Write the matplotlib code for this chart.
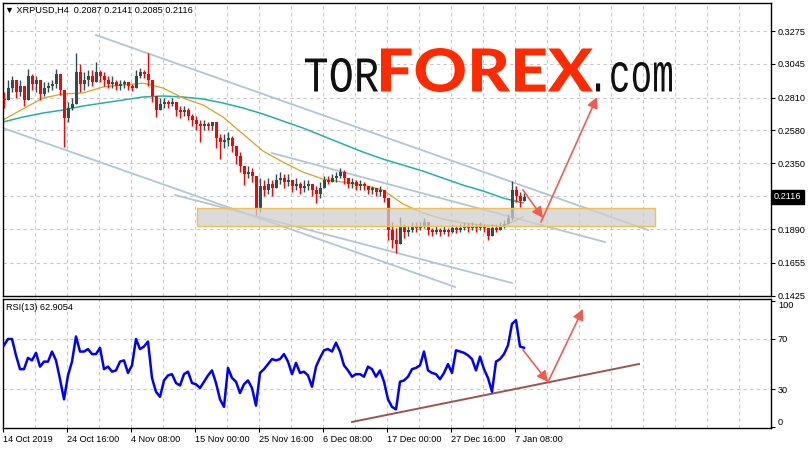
import numpy as np
import matplotlib
matplotlib.use("Agg")
import matplotlib.pyplot as plt
import matplotlib.transforms as mtransforms
from matplotlib.textpath import TextPath
from matplotlib.patches import PathPatch, Rectangle
from matplotlib.font_manager import FontProperties

# ---- data (4-bar samples of the H4 chart) ----
close = [0.2793, 0.2877, 0.2932, 0.2849, 0.2891, 0.2793, 0.2960, 0.2904, 0.2932, 0.2835,
         0.2877, 0.2891, 0.2904, 0.2974, 0.2863, 0.2667, 0.2737, 0.2765, 0.2988, 0.2904,
         0.2932, 0.2960, 0.2918, 0.2988, 0.2960, 0.2932, 0.2904, 0.2918, 0.2891, 0.2904,
         0.2918, 0.2891, 0.2877, 0.2960, 0.2988, 0.2974, 0.2932, 0.2821, 0.2723, 0.2765,
         0.2779, 0.2765, 0.2779, 0.2723, 0.2709, 0.2723, 0.2681, 0.2653, 0.2625, 0.2611,
         0.2625, 0.2611, 0.2639, 0.2527, 0.2499, 0.2513, 0.2527, 0.2471, 0.2401, 0.2331,
         0.2275, 0.2289, 0.2261, 0.2038, 0.2192, 0.2164, 0.2205, 0.2178, 0.2233, 0.2247,
         0.2219, 0.2233, 0.2192, 0.2205, 0.2178, 0.2192, 0.2205, 0.2164, 0.2136, 0.2178,
         0.2233, 0.2219, 0.2247, 0.2261, 0.2289, 0.2247, 0.2205, 0.2219, 0.2192, 0.2205,
         0.2192, 0.2164, 0.2178, 0.2150, 0.2164, 0.2108, 0.1884, 0.1814, 0.1786, 0.1912,
         0.1870, 0.1884, 0.1912, 0.1898, 0.1912, 0.1940, 0.1884, 0.1870, 0.1884, 0.1870,
         0.1884, 0.1870, 0.1898, 0.1884, 0.1898, 0.1912, 0.1898, 0.1912, 0.1898, 0.1912,
         0.1898, 0.1842, 0.1898, 0.1884, 0.1912, 0.1926, 0.1968, 0.2164, 0.2122, 0.2087,
         0.2116]
high = [0.2849, 0.2932, 0.2960, 0.2904, 0.2932, 0.2877, 0.3009, 0.2974, 0.2960, 0.2904,
        0.2918, 0.2918, 0.2932, 0.3009, 0.2946, 0.2849, 0.2779, 0.2807, 0.3121, 0.3044,
        0.2988, 0.3002, 0.3002, 0.3058, 0.3002, 0.2988, 0.2960, 0.2960, 0.2932, 0.2932,
        0.2932, 0.2918, 0.2904, 0.3002, 0.3016, 0.3002, 0.3121, 0.2904, 0.2821, 0.2807,
        0.2807, 0.2793, 0.2807, 0.2765, 0.2751, 0.2751, 0.2737, 0.2695, 0.2681, 0.2653,
        0.2653, 0.2639, 0.2639, 0.2611, 0.2555, 0.2555, 0.2569, 0.2541, 0.2471, 0.2429,
        0.2331, 0.2331, 0.2317, 0.2261, 0.2247, 0.2233, 0.2247, 0.2233, 0.2275, 0.2289,
        0.2275, 0.2275, 0.2233, 0.2247, 0.2219, 0.2233, 0.2233, 0.2205, 0.2192, 0.2219,
        0.2261, 0.2261, 0.2275, 0.2289, 0.2317, 0.2303, 0.2247, 0.2247, 0.2233, 0.2233,
        0.2219, 0.2192, 0.2192, 0.2178, 0.2192, 0.2164, 0.2108, 0.1940, 0.1898, 0.1975,
        0.1926, 0.1912, 0.1940, 0.1940, 0.1940, 0.1968, 0.1926, 0.1898, 0.1912, 0.1898,
        0.1912, 0.1898, 0.1926, 0.1912, 0.1926, 0.1940, 0.1933, 0.1940, 0.1926, 0.1940,
        0.1926, 0.1898, 0.1926, 0.1926, 0.1940, 0.1954, 0.1996, 0.2226, 0.2192, 0.2150,
        0.2141]
low = [0.2737, 0.2793, 0.2849, 0.2807, 0.2821, 0.2751, 0.2821, 0.2863, 0.2849, 0.2793,
       0.2821, 0.2849, 0.2863, 0.2877, 0.2828, 0.2464, 0.2639, 0.2723, 0.2793, 0.2849,
       0.2863, 0.2891, 0.2891, 0.2932, 0.2918, 0.2891, 0.2877, 0.2877, 0.2863, 0.2863,
       0.2877, 0.2863, 0.2856, 0.2891, 0.2946, 0.2946, 0.2891, 0.2779, 0.2674, 0.2723,
       0.2737, 0.2737, 0.2751, 0.2681, 0.2667, 0.2681, 0.2653, 0.2611, 0.2583, 0.2499,
       0.2583, 0.2583, 0.2583, 0.2457, 0.2380, 0.2457, 0.2471, 0.2429, 0.2345, 0.2289,
       0.2198, 0.2247, 0.2219, 0.1989, 0.2010, 0.2122, 0.2136, 0.2122, 0.2192, 0.2205,
       0.2178, 0.2192, 0.2150, 0.2164, 0.2136, 0.2150, 0.2164, 0.2122, 0.2073, 0.2108,
       0.2192, 0.2205, 0.2219, 0.2219, 0.2247, 0.2205, 0.2178, 0.2178, 0.2164, 0.2164,
       0.2164, 0.2136, 0.2136, 0.2122, 0.2122, 0.2080, 0.1814, 0.1758, 0.1724, 0.1828,
       0.1828, 0.1842, 0.1870, 0.1870, 0.1884, 0.1898, 0.1849, 0.1842, 0.1856, 0.1842,
       0.1856, 0.1842, 0.1863, 0.1863, 0.1870, 0.1884, 0.1870, 0.1884, 0.1870, 0.1884,
       0.1870, 0.1814, 0.1856, 0.1870, 0.1884, 0.1898, 0.1926, 0.1954, 0.2080, 0.2045,
       0.2085]
first_open = 0.2800

# moving averages, every 20 bars
ma_fast = [0.2653, 0.2731, 0.2807, 0.2835, 0.2842, 0.2884, 0.2898, 0.2911, 0.2877, 0.2807,
           0.2758, 0.2674, 0.2555, 0.2436, 0.2359, 0.2289, 0.2240, 0.2219, 0.2198, 0.2164,
           0.2066, 0.2003, 0.1961, 0.1933, 0.1919, 0.1912, 0.1975]
ma_slow = [0.2639, 0.2674, 0.2702, 0.2723, 0.2751, 0.2772, 0.2793, 0.2814, 0.2821, 0.2814,
           0.2800, 0.2772, 0.2737, 0.2695, 0.2646, 0.2597, 0.2541, 0.2485, 0.2429, 0.2380,
           0.2338, 0.2296, 0.2247, 0.2198, 0.2157, 0.2108, 0.2073]

# RSI(13), every 4 bars
rsi = [65, 70, 70, 57, 46, 46, 55, 53, 59, 48,
       52, 52, 60, 53, 38, 22, 41, 52, 72, 60,
       60, 62, 58, 58, 63, 46, 48, 44, 45, 52,
       53, 43, 49, 70, 62, 64, 68, 39, 28, 24,
       37, 41, 42, 35, 33, 42, 44, 35, 34, 31,
       36, 41, 45, 35, 22, 16, 47, 39, 36, 27,
       34, 37, 31, 17, 43, 46, 50, 54, 53, 54,
       58, 52, 42, 51, 43, 44, 41, 32, 48, 55,
       61, 62, 60, 67, 60, 49, 45, 40, 42, 42,
       40, 48, 46, 40, 45, 36, 22, 16, 14, 36,
       37, 40, 46, 47, 49, 60, 45, 43, 42, 38,
       43, 50, 43, 61, 60, 59, 57, 54, 45, 56,
       46, 39, 28, 52, 54, 58, 65, 82, 85, 64,
       63]

date_labels = ["14 Oct 2019", "24 Oct 16:00", "4 Nov 08:00", "15 Nov 00:00", "25 Nov 16:00",
               "6 Dec 08:00", "17 Dec 00:00", "27 Dec 16:00", "7 Jan 08:00"]
price_ticks = [0.3275, 0.3045, 0.2810, 0.2580, 0.2350, 0.1890, 0.1655, 0.1425]

# drawn objects (bar index, price)
channels = [((93, 0.3247), (645, 0.1884)),
            ((0, 0.2597), (452, 0.1486)),
            ((172, 0.2129), (509, 0.1514)),
            ((269, 0.2422), (602, 0.1800))]
zone = (194, 652, 0.1912, 0.2038)
price_arrows = [((520, 0.2164), (540, 0.1968)), ((538, 0.1940), (594, 0.2814))]
rsi_arrows = [((520, 61.3), (545, 35.8)), ((545, 35.8), (580, 93.9))]
rsi_trend = ((349, 4.0), (636, 50.1))

# ---- figure ----
W, H = 811, 449
BULL = "#2f4f4f"
BEAR = "#ff0000"
GRID = "#c8c8c8"
ARROW = "#f25c50"
FONT = ["Liberation Sans", "DejaVu Sans"]
FS = 6.6

fig = plt.figure(figsize=(W / 100, H / 100), dpi=100)
ax = fig.add_axes([3 / W, 1 - 296 / H, 768 / W, 293 / H])
axr = fig.add_axes([3 / W, 1 - 428 / H, 768 / W, 129 / H])

close = np.array(close)
high = np.array(high)
low = np.array(low)
bars = np.arange(len(close)) * 4 + 1
opens = np.r_[first_open, close[:-1]]
cols = np.where(close >= opens, BULL, BEAR)
hi = np.maximum(high, np.maximum(opens, close))
lo = np.minimum(low, np.minimum(opens, close))

for a in (ax, axr):
    a.set_xlim(0, 768)
    for xg in range(32, 768, 32):
        a.axvline(xg, color=GRID, lw=0.8, ls=(0, (3, 3)), zorder=0)
    for s in a.spines.values():
        s.set_color("black")
        s.set_linewidth(1)

# price panel
ax.set_ylim(0.1423, 0.3471)
for yg in price_ticks + [0.2122]:
    ax.axhline(yg, color=GRID, lw=0.8, ls=(0, (3, 3)), zorder=0)

for (x0, y0), (x1, y1) in channels:
    ax.plot([x0, x1], [y0, y1], color="#b3c6d4", lw=1.3, zorder=1)

ma_x = np.arange(len(ma_fast)) * 20
ax.plot(ma_x, ma_slow, color="#20b2aa", lw=1.1, zorder=2)
ax.plot(ma_x, ma_fast, color="#e0a020", lw=0.9, zorder=2)

ax.vlines(bars, lo, hi, colors=cols, lw=1.0, zorder=3)
body = np.maximum(np.abs(close - opens), 0.0005)
ax.bar(bars, body, bottom=np.minimum(opens, close), width=3.0, color=cols, lw=0, zorder=3)

ax.add_patch(Rectangle((zone[0], zone[2]), zone[1] - zone[0], zone[3] - zone[2],
                       facecolor="#cfcfcf", alpha=0.75, edgecolor="none", zorder=4))
ax.add_patch(Rectangle((zone[0], zone[2]), zone[1] - zone[0], zone[3] - zone[2],
                       facecolor="none", edgecolor="#f0c050", lw=1.0, zorder=4))

for (x0, y0), (x1, y1) in price_arrows:
    ax.annotate("", xy=(x1, y1), xytext=(x0, y0),
                arrowprops=dict(arrowstyle="-|>", color=ARROW, lw=1.2,
                                mutation_scale=16, shrinkA=0, shrinkB=0), zorder=5)

ax.yaxis.tick_right()
ax.set_yticks(price_ticks)
ax.set_yticklabels(["%.4f" % v for v in price_ticks])
ax.set_xticks([])
ax.tick_params(axis="y", direction="out", length=3, width=0.8, pad=2, labelsize=FS)
for lab in ax.get_yticklabels():
    lab.set_family(FONT)

trans = mtransforms.offset_copy(mtransforms.blended_transform_factory(ax.transAxes, ax.transData),
                                fig=fig, x=3, y=0, units="dots")
ax.text(1.0, close[-1], "%.4f" % close[-1], transform=trans, color="white", fontsize=FS,
        family=FONT, ha="left", va="center",
        bbox=dict(boxstyle="square,pad=0.25", fc="black", ec="black"))

ax.text(2 / 768, 1 - 7 / 293, "\u25bc XRPUSD,H4  0.2087 0.2141 0.2085 0.2116", transform=ax.transAxes,
        fontsize=FS, family=FONT, ha="left", va="center")

# RSI panel
axr.set_ylim(-0.8, 101.8)
for yg in (70, 30):
    axr.axhline(yg, color=GRID, lw=0.8, ls=(0, (3, 3)), zorder=0)
axr.plot(bars, rsi, color="#0000ff", lw=1.8, zorder=3)
axr.plot([rsi_trend[0][0], rsi_trend[1][0]], [rsi_trend[0][1], rsi_trend[1][1]],
         color="#a0524f", lw=1.4, zorder=2)
for (x0, y0), (x1, y1) in rsi_arrows:
    axr.annotate("", xy=(x1, y1), xytext=(x0, y0),
                 arrowprops=dict(arrowstyle="-|>", color=ARROW, lw=1.2,
                                 mutation_scale=16, shrinkA=0, shrinkB=0), zorder=5)
axr.yaxis.tick_right()
axr.set_yticks([100, 70, 30, 0])
axr.set_yticklabels(["100", "70", "30", "0"])
axr.set_xticks(np.arange(len(date_labels)) * 64)
axr.set_xticklabels(date_labels)
axr.tick_params(direction="out", length=3, width=0.8, pad=2, labelsize=FS)
for lab in axr.get_xticklabels():
    lab.set_ha("left")
    lab.set_family(FONT)
for lab in axr.get_yticklabels():
    lab.set_family(FONT)
axr.get_yticklabels()[0].set_va("top")
axr.get_yticklabels()[-1].set_va("bottom")
axr.text(3 / 768, 1 - 9 / 129, "RSI(13) 62.9054", transform=axr.transAxes, fontsize=FS,
         family=FONT, ha="left", va="center")


# logo, placed into pixel boxes (left, top, right, bottom)
def logo_text(s, box, color, prop):
    tp = TextPath((0, 0), s, size=100, prop=prop)
    bb = tp.get_extents()
    x0, y0, x1, y1 = box
    tr = (mtransforms.Affine2D().translate(-bb.x0, -bb.y0)
          .scale((x1 - x0) / bb.width, (y1 - y0) / bb.height)
          .translate(x0, H - y1))
    fig.add_artist(PathPatch(tp, transform=tr, facecolor=color, edgecolor="none", zorder=10))


mono = FontProperties(family="Liberation Mono")
heavy = FontProperties(family="Lato", weight="black")
logo_text("TOR", (305, 58, 378, 92), "#111111", mono)
logo_text("FOREX", (381, 48, 593, 92), "#ff2a00", heavy)
logo_text(".com", (596, 62, 672, 92), "#111111", mono)

fig.savefig("out.png", dpi=100, facecolor="white")
